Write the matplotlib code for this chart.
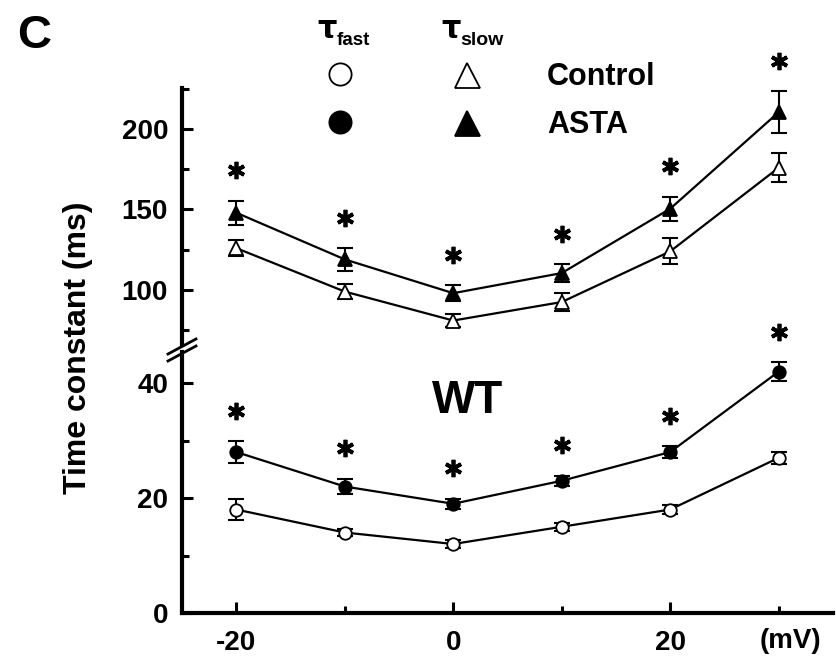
import matplotlib
matplotlib.use("Agg")
import matplotlib.pyplot as plt
from matplotlib.lines import Line2D
from matplotlib import transforms as mtrans
from matplotlib.ticker import MultipleLocator

plt.rcParams['font.family'] = ['Liberation Sans', 'DejaVu Sans']
plt.rcParams['font.weight'] = 'bold'

# ---------------- data ----------------
voltages = [-20, -10, 0, 10, 20, 30]
fast_control = [18, 14, 12, 15, 18, 27]
fast_control_err = [1.8, 0.6, 0.7, 0.7, 0.7, 1.0]
fast_asta = [28, 22, 19, 23, 28, 42]
fast_asta_err = [1.9, 1.3, 0.9, 0.9, 1.0, 1.6]
slow_control = [126, 99, 81, 92.5, 124, 176]
slow_control_err = [5, 4.5, 4, 5.5, 8, 9]
slow_asta = [148, 119, 98, 110.5, 150.5, 210.5]
slow_asta_err = [7.5, 7, 5, 5.5, 7.5, 13]
significant = [True, True, True, True, True, True]
x_ticklabels = ['-20', '0', '20']
lower_ticklabels = ['0', '20', '40']
upper_ticklabels = ['100', '150', '200']

W, H = 837, 659
fig = plt.figure(figsize=(W / 100, H / 100), dpi=100)

def fx(px):
    return px / W

def fy(py):
    return 1 - py / H

left, right = 182, 833
ax_lo = fig.add_axes([fx(left), fy(613), fx(right) - fx(left), fy(352) - fy(613)])
ax_hi = fig.add_axes([fx(left), fy(345), fx(right) - fx(left), fy(88) - fy(345)], sharex=ax_lo)

for ax in (ax_lo, ax_hi):
    for s in ('top', 'right'):
        ax.spines[s].set_visible(False)
    ax.spines['left'].set_linewidth(3)
    ax.spines['bottom'].set_linewidth(3)
    ax.tick_params(axis='both', which='major', direction='in', length=8, width=2.2,
                   labelsize=20, pad=10)
    ax.tick_params(axis='both', which='minor', direction='in', length=5, width=2.2)
    ax.set_facecolor('none')

ax_hi.spines['bottom'].set_visible(False)
ax_hi.tick_params(axis='x', which='both', bottom=False, labelbottom=False)

ax_lo.set_xlim(-25, 35)
ax_lo.set_xticks([-20, 0, 20])
ax_lo.set_xticklabels(x_ticklabels, fontweight='bold')
ax_lo.xaxis.set_minor_locator(MultipleLocator(10))
ax_lo.tick_params(axis='x', which='major', pad=12)

ax_lo.set_ylim(0, 45.4)
ax_lo.set_yticks([0, 20, 40])
ax_lo.set_yticklabels(lower_ticklabels, fontweight='bold')
ax_lo.yaxis.set_minor_locator(MultipleLocator(10))

ax_hi.set_ylim(65.8, 225.5)
ax_hi.set_yticks([100, 150, 200])
ax_hi.set_yticklabels(upper_ticklabels, fontweight='bold')
ax_hi.yaxis.set_minor_locator(MultipleLocator(25))

def series(ax, y, err, marker, filled, ms):
    ax.errorbar(voltages, y, yerr=err, fmt='none', ecolor='black', elinewidth=1.5,
                capsize=5.5, capthick=1.5, zorder=2, clip_on=False)
    ax.plot(voltages, y, color='black', lw=1.6, marker=marker, ms=ms,
            mfc='black' if filled else 'white', mec='black', mew=1.3,
            zorder=3, clip_on=False)

series(ax_lo, fast_control, fast_control_err, 'o', False, 9)
series(ax_lo, fast_asta, fast_asta_err, 'o', True, 9)
series(ax_hi, slow_control, slow_control_err, '^', False, 10)
series(ax_hi, slow_asta, slow_asta_err, '^', True, 10)

def stars(ax, y, err):
    tr = mtrans.offset_copy(ax.transData, fig=fig, x=0, y=22, units='points')
    xs = [v for v, s in zip(voltages, significant) if s]
    ys = [a + e for a, e, s in zip(y, err, significant) if s]
    ax.plot(xs, ys, ls='none', marker=(6, 2, 0), ms=12.5, mew=2.7, color='black',
            transform=tr, clip_on=False, zorder=4)

stars(ax_lo, fast_asta, fast_asta_err)
stars(ax_hi, slow_asta, slow_asta_err)

# axis break marks
for dy in (0, -7):
    fig.add_artist(Line2D([fx(168), fx(196)], [fy(361 + dy), fy(346 + dy)],
                          color='black', lw=2, transform=fig.transFigure))

# labels
fig.text(fx(78), fy(348), 'Time constant (ms)', rotation=90, fontsize=23,
         fontweight='bold', ha='center', va='center')
fig.text(fx(760), fy(648), '(mV)', fontsize=20, fontweight='bold', ha='left', va='baseline')
fig.text(fx(17), fy(48), 'C', fontsize=34, fontweight='bold', ha='left', va='baseline')
fig.text(fx(432), fy(413), 'WT', fontsize=33, fontweight='bold', ha='left', va='baseline')

# legend
fig.text(fx(317), fy(38), 'τ', fontsize=22, fontweight='bold', family='DejaVu Sans',
         ha='left', va='baseline')
fig.text(fx(337), fy(45), 'fast', fontsize=13.5, fontweight='bold', ha='left', va='baseline')
fig.text(fx(441), fy(38), 'τ', fontsize=22, fontweight='bold', family='DejaVu Sans',
         ha='left', va='baseline')
fig.text(fx(460), fy(45), 'slow', fontsize=14, fontweight='bold', ha='left', va='baseline')

leg_items = [(340, 74, 'o', 'white', 16), (467, 75, '^', 'white', 18),
             (340, 122, 'o', 'black', 16), (467, 123, '^', 'black', 18)]
for px, py, m, fc, ms in leg_items:
    fig.add_artist(Line2D([fx(px)], [fy(py)], marker=m, ms=ms, mfc=fc, mec='black',
                          mew=1.3, ls='none', transform=fig.transFigure))
fig.text(fx(547), fy(85), 'Control', fontsize=22, fontweight='bold', ha='left', va='baseline')
fig.text(fx(547), fy(133), 'ASTA', fontsize=22, fontweight='bold', ha='left', va='baseline')

fig.savefig('out.png', dpi=100, facecolor='white')
